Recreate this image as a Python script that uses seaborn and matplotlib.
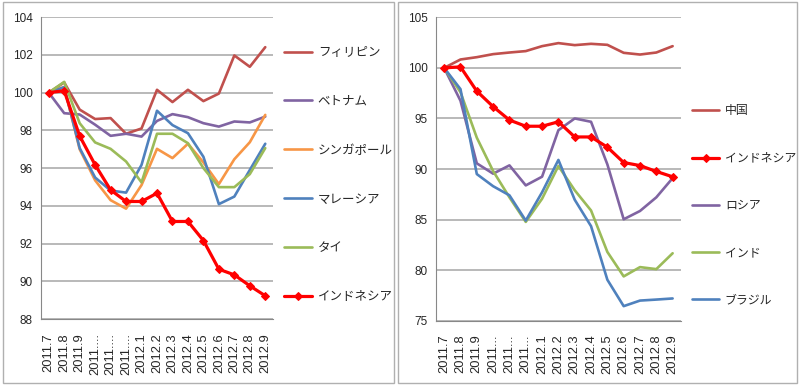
import matplotlib
matplotlib.use("Agg")
import matplotlib.pyplot as plt
import seaborn as sns
import numpy as np
from matplotlib.patches import Rectangle

# ---------------- data ----------------
labels_left = ["2011.7", "2011.8", "2011.9", "2011....", "2011....", "2011....",
               "2012.1", "2012.2", "2012.3", "2012.4", "2012.5", "2012.6",
               "2012.7", "2012.8", "2012.9"]
labels_right = ["2011.7", "2011.8", "2011.9", "2011...", "2011...", "2011...",
                "2012.1", "2012.2", "2012.3", "2012.4", "2012.5", "2012.6",
                "2012.7", "2012.8", "2012.9"]

philippines = [100, 100.54, 99.1, 98.6, 98.65, 97.82, 98.1, 100.15, 99.5, 100.15,
               99.55, 99.95, 101.97, 101.37, 102.41]
vietnam = [100, 98.91, 98.84, 98.3, 97.71, 97.82, 97.67, 98.5, 98.86, 98.7,
           98.38, 98.2, 98.47, 98.42, 98.73]
singapore = [100, 100.3, 97.0, 95.35, 94.3, 93.85, 95.1, 97.02, 96.53, 97.29,
             96.3, 95.15, 96.47, 97.37, 98.82]
malaysia = [100, 100.29, 97.06, 95.5, 94.81, 94.7, 96.17, 99.04, 98.28, 97.85,
            96.6, 94.09, 94.49, 95.9, 97.29]
thailand = [100, 100.57, 98.38, 97.36, 97.02, 96.35, 95.24, 97.82, 97.82, 97.32,
            96.0, 94.99, 94.99, 95.68, 97.06]
indonesia = [100, 100.1, 97.7, 96.17, 94.84, 94.23, 94.23, 94.67, 93.17, 93.17,
             92.16, 90.64, 90.34, 89.76, 89.23]

china = [100, 100.83, 101.06, 101.36, 101.52, 101.66, 102.15, 102.45, 102.25, 102.38,
         102.28, 101.49, 101.32, 101.52, 102.15]
russia = [100, 96.75, 90.56, 89.54, 90.36, 88.38, 89.24, 93.84, 95.0, 94.67,
          90.46, 85.03, 85.85, 87.2, 89.1]
india = [100, 97.6, 93.1, 89.8, 87.2, 84.77, 87.06, 90.3, 87.9, 85.9,
         81.8, 79.38, 80.3, 80.1, 81.67]
brazil = [100, 97.9, 89.5, 88.3, 87.4, 84.9, 87.7, 90.9, 86.96, 84.35,
          79.05, 76.44, 76.99, 77.09, 77.2]

names_left = ["フィリピン", "ベトナム", "シンガポール", "マレーシア", "タイ", "インドネシア"]
names_right = ["中国", "インドネシア", "ロシア", "インド", "ブラジル"]

# ---------------- style ----------------
sns.set_style("white")
plt.rcParams["font.family"] = ["Liberation Sans", "Noto Sans CJK JP", "DejaVu Sans"]

C_BROWN = "#C0504D"
C_PURPLE = "#8064A2"
C_ORANGE = "#F79646"
C_BLUE = "#4F81BD"
C_GREEN = "#9BBB59"
C_RED = "#FF0000"
GRID = "#A6A6A6"

fig = plt.figure(figsize=(8.0, 3.85), dpi=100)

# panel borders
for x0, w in [(0.004, 0.488), (0.497, 0.499)]:
    fig.patches.append(Rectangle((x0, 0.006), w, 0.988, transform=fig.transFigure,
                                 fill=False, edgecolor="#B0B0B0", lw=1.0))

ax1 = fig.add_axes([0.05125, 0.1714, 0.29, 0.784])
ax2 = fig.add_axes([0.545, 0.167, 0.306, 0.788])

idx = np.arange(len(labels_left))


def draw(ax, series, ylim, yticks, labels):
    for name, vals, color in series:
        if color == C_RED:
            sns.lineplot(x=idx, y=vals, ax=ax, color=color, lw=2.3, marker="D",
                         markersize=4.5, markeredgecolor=color, label=name, zorder=5)
        else:
            sns.lineplot(x=idx, y=vals, ax=ax, color=color, lw=1.9, label=name)
    ax.set_xlim(-0.5, len(idx) - 0.5)
    ax.set_ylim(*ylim)
    ax.set_yticks(yticks)
    ax.set_yticklabels([str(t) for t in yticks], fontsize=8.5)
    ax.yaxis.grid(True, color=GRID, lw=1.1)
    ax.set_axisbelow(True)
    ax.set_xticks(np.arange(-0.5, len(idx), 1.0))
    ax.set_xticklabels([])
    ax.set_xticks(idx, minor=True)
    ax.set_xticklabels(labels, minor=True, rotation=90, fontsize=9.3)
    ax.tick_params(axis="x", which="major", direction="out", length=4, color="#888888", width=0.8)
    ax.tick_params(axis="x", which="minor", length=0, pad=10)
    ax.tick_params(axis="y", direction="out", length=4, color="#888888", width=0.8, pad=2)
    for s in ["top", "right"]:
        ax.spines[s].set_visible(False)
    for s in ["left", "bottom"]:
        ax.spines[s].set_color("#888888")
        ax.spines[s].set_linewidth(0.8)
    ax.set_xlabel("")
    ax.set_ylabel("")


draw(ax1, [(names_left[0], philippines, C_BROWN),
           (names_left[1], vietnam, C_PURPLE),
           (names_left[2], singapore, C_ORANGE),
           (names_left[3], malaysia, C_BLUE),
           (names_left[4], thailand, C_GREEN),
           (names_left[5], indonesia, C_RED)],
     (88, 104), list(range(88, 105, 2)), labels_left)

draw(ax2, [(names_right[0], china, C_BROWN),
           (names_right[1], indonesia, C_RED),
           (names_right[2], russia, C_PURPLE),
           (names_right[3], india, C_GREEN),
           (names_right[4], brazil, C_BLUE)],
     (75, 105), list(range(75, 106, 5)), labels_right)

ax1.legend(loc="upper left", bbox_to_anchor=(0.355, 0.878), bbox_transform=fig.transFigure,
           frameon=False, fontsize=9, handlelength=2.2, handletextpad=0.5,
           labelspacing=2.95, borderaxespad=0, borderpad=0)
ax2.legend(loc="upper left", bbox_to_anchor=(0.865, 0.726), bbox_transform=fig.transFigure,
           frameon=False, fontsize=8.6, handlelength=2.3, handletextpad=0.45,
           labelspacing=2.95, borderaxespad=0, borderpad=0)

fig.savefig("out.png", dpi=100)
